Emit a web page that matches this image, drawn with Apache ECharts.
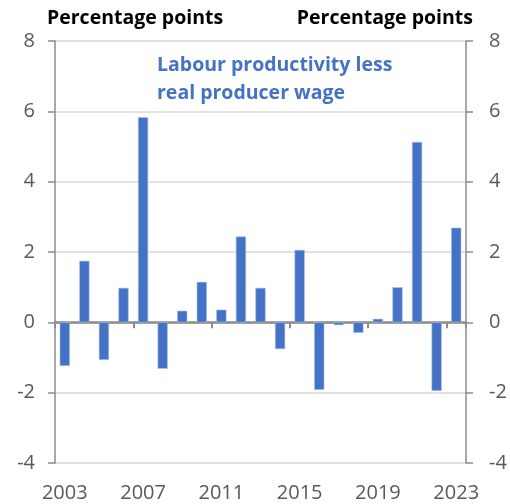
<!DOCTYPE html>
<html>
<head>
<meta charset="utf-8">
<script src="https://cdn.jsdelivr.net/npm/echarts@6/dist/echarts.min.js"></script>
<style>
  html, body { margin: 0; padding: 0; background: #fff; }
  #chart { width: 510px; height: 504px; }
</style>
</head>
<body>
<div id="chart"></div>
<script>
// years on the x axis
const years = ['2003', '2004', '2005', '2006', '2007', '2008', '2009', '2010', '2011', '2012',
  '2013', '2014', '2015', '2016', '2017', '2018', '2019', '2020', '2021', '2022', '2023']
// labour productivity less real producer wage, percentage points
const gap = [-1.24, 1.75, -1.07, 0.98, 5.83, -1.32, 0.33, 1.15, 0.36, 2.44,
  0.98, -0.76, 2.06, -1.92, -0.08, -0.3, 0.1, 1.0, 5.13, -1.95, 2.69]

const font = '"Open Sans", Lato, sans-serif'
const blue = '#4472C4'
const axisGrey = '#8c8c8c'

const chart = echarts.init(document.getElementById('chart'))

// y axes are the same on both sides
const yAxis = (pos) => ({
  type: 'value',
  position: pos,
  min: -4,
  max: 8,
  interval: 2,
  axisLine: { show: true, lineStyle: { color: axisGrey, width: 1.5 } },
  axisTick: { show: true, length: 7, lineStyle: { color: axisGrey, width: 1.5 } },
  axisLabel: { color: '#595959', fontSize: 20, fontFamily: font, margin: pos === 'left' ? 20 : 23 },
  splitLine: { show: pos === 'left', lineStyle: { color: '#d9d9d9', width: 1.5 } }
})

chart.setOption({
  animation: false,
  grid: { left: 55, right: 44, top: 41, bottom: 41, containLabel: false, outerBoundsMode: 'none' },
  title: [
    { text: 'Percentage points', left: 42, top: 3,
      textStyle: { fontFamily: font, fontSize: 19.5, fontWeight: 'bold', color: '#000' } },
    { text: 'Percentage points', right: 32, top: 3,
      textStyle: { fontFamily: font, fontSize: 19.5, fontWeight: 'bold', color: '#000' } },
    { text: 'Labour productivity less\nreal producer wage', left: 152, top: 46,
      textStyle: { fontFamily: font, fontSize: 19.5, fontWeight: 'bold', color: blue, lineHeight: 28 } }
  ],
  xAxis: [
    {
      // zero line with the ticks, no labels
      type: 'category',
      data: years,
      axisLine: { onZero: true, lineStyle: { color: axisGrey, width: 2.5 } },
      axisTick: { show: true, interval: 3, length: 6, lineStyle: { color: axisGrey, width: 2 } },
      axisLabel: { show: false }
    },
    {
      // year labels at the bottom
      type: 'category',
      data: years,
      position: 'bottom',
      axisLine: { show: false, onZero: false },
      axisTick: { show: false },
      axisLabel: { interval: 3, color: '#595959', fontSize: 20, fontFamily: font, margin: 20 }
    }
  ],
  yAxis: [yAxis('left'), yAxis('right')],
  series: [
    {
      type: 'bar',
      data: gap,
      barCategoryGap: '48%',
      itemStyle: { color: blue, borderColor: '#a9c0e8', borderWidth: 0.6 }
    }
  ]
})
</script>
</body>
</html>
